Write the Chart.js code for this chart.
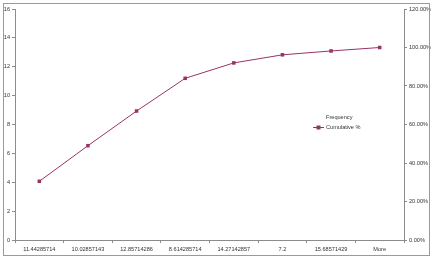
<!DOCTYPE html>
<html><head><meta charset="utf-8">
<script src="https://cdn.jsdelivr.net/npm/chart.js@4"></script>
<style>html,body{margin:0;padding:0;background:#fff}#w{width:433px;height:266px;position:relative}</style>
</head><body><div id="w"><canvas id="c" width="433" height="266"></canvas></div>
<script>
const categories = ["11.44285714","10.02857143","12.85714286","8.614285714","14.27142857","7.2","15.68571429","More"];
const frequency = [];
const cumulativePct = [0.305, 0.49, 0.67, 0.84, 0.92, 0.962, 0.982, 1.0];
const leftTicks = [0,2,4,6,8,10,12,14,16];
const rightTicks = [0,0.2,0.4,0.6,0.8,1.0,1.2];

const FONT = {family:"'Liberation Sans', Arial, sans-serif", size:5.6};
const AX = '#8c8c8c';
const TXT = '#333';

const frame = {
  id:'frame',
  afterDraw(chart){
    const ctx = chart.ctx;
    ctx.save();
    ctx.strokeStyle = '#9a9a9a';
    ctx.lineWidth = 1;
    ctx.strokeRect(3.5, 3.5, 426, 252);
    // legend
    const x0 = 313, y1 = 117, y2 = 127.5;
    ctx.font = "5.6px 'Liberation Sans', Arial, sans-serif";
    ctx.fillStyle = TXT;
    ctx.textBaseline = 'middle';
    ctx.textAlign = 'left';
    ctx.fillText(chart.data.datasets[0].label, x0 + 13, y1);
    ctx.strokeStyle = '#993366';
    ctx.beginPath(); ctx.moveTo(x0, y2); ctx.lineTo(x0 + 11, y2); ctx.stroke();
    ctx.fillStyle = '#993366';
    ctx.fillRect(x0 + 3.5, y2 - 2, 4, 4);
    ctx.fillStyle = TXT;
    ctx.fillText(chart.data.datasets[1].label, x0 + 13, y2);
    ctx.restore();
  }
};

new Chart(document.getElementById('c'), {
  type:'line',
  data:{
    labels: categories,
    datasets:[
      {label:'Frequency', data: frequency, yAxisID:'y', showLine:false, pointRadius:0},
      {label:'Cumulative %', data: cumulativePct, yAxisID:'y1', borderColor:'#993366', backgroundColor:'#993366',
       borderWidth:1, pointStyle:'rect', pointRadius:2.5, pointBorderWidth:0, tension:0}
    ]
  },
  options:{
    responsive:false, animation:false, devicePixelRatio:1,
    layout:{padding:{left:0, right:0, top:9, bottom:10}},
    plugins:{legend:{display:false}, tooltip:{enabled:false}},
    scales:{
      x:{
        offset:true,
        grid:{offset:true, drawOnChartArea:false, tickLength:3, color:AX, tickColor:AX},
        border:{color:AX},
        ticks:{font:FONT, color:TXT, maxRotation:0, autoSkip:false, padding:3},
        afterFit(s){ s.height = 16; }
      },
      y:{
        position:'left', min:0, max:16,
        afterBuildTicks(s){ s.ticks = leftTicks.map(v=>({value:v})); },
        grid:{drawOnChartArea:false, tickLength:3, color:AX, tickColor:AX},
        border:{color:AX},
        ticks:{font:FONT, color:TXT, padding:2},
        afterFit(s){ s.width = 15; }
      },
      y1:{
        position:'right', min:0, max:1.2,
        afterBuildTicks(s){ s.ticks = rightTicks.map(v=>({value:v})); },
        grid:{drawOnChartArea:false, tickLength:3, color:AX, tickColor:AX},
        border:{color:AX},
        ticks:{font:FONT, color:TXT, padding:2, callback:v=>(v*100).toFixed(2)+'%'},
        afterFit(s){ s.width = 29; }
      }
    }
  },
  plugins:[frame]
});
</script></body></html>
